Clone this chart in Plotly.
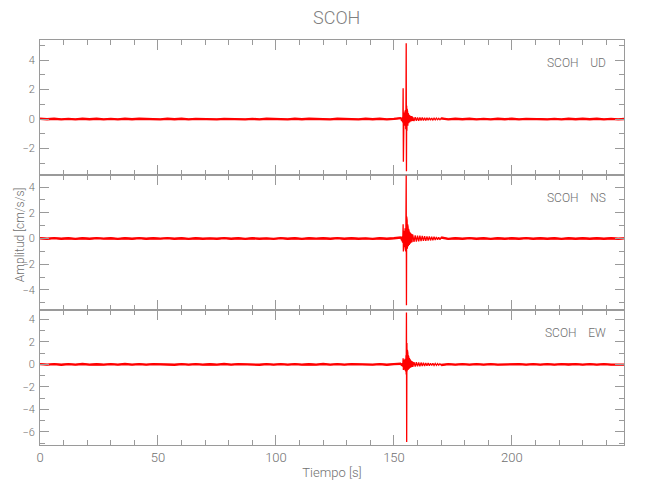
import plotly.graph_objects as go
from plotly.subplots import make_subplots

# ---------------- data ----------------
t_pre = [0, 3, 6, 9, 12, 15, 18, 21, 24, 27, 30, 33, 36, 39, 42, 45, 48, 51, 54, 57,
         60, 63, 66, 69, 72, 75, 78, 81, 84, 87, 90, 93, 96, 99, 102, 105, 108, 111,
         114, 117, 120, 123, 126, 129, 132, 135, 138, 141, 144, 147, 150]
t_event = [153.0, 153.1, 153.2, 153.3, 153.4, 153.5, 153.6, 153.7, 153.8, 153.9,
           154.0, 154.1, 154.2, 154.3, 154.4, 154.5, 154.6, 154.7, 154.8, 154.9,
           155.0, 155.1, 155.2, 155.3, 155.4, 155.5, 155.6, 155.7, 155.8, 155.9,
           156.0, 156.1, 156.2, 156.3, 156.4, 156.5, 156.6, 156.7, 156.8, 156.9,
           157.0, 157.1, 157.2, 157.3, 157.4, 157.5, 157.6, 157.7, 157.8, 157.9, 158.0]
t_coda = [158.5, 159.0, 159.5, 160.0, 160.5, 161.0, 161.5, 162.0, 162.5, 163.0,
          163.5, 164.0, 164.5, 165.0, 165.5, 166.0, 166.5, 167.0, 167.5, 168.0,
          168.5, 169.0, 169.5, 170.0]
t_post = [173, 176, 179, 182, 185, 188, 191, 194, 197, 200, 203, 206, 209, 212, 215,
          218, 221, 224, 227, 230, 233, 236, 239, 242, 245, 248]

ud_pre = [0.02, -0.01, 0.02, -0.02, 0.01, -0.02, 0.02, -0.01, 0.02, -0.02, 0.01, -0.02,
          0.02, -0.01, 0.02, -0.01, 0.01, -0.02, 0.02, -0.01, 0.02, -0.02, 0.01, -0.01,
          0.02, -0.02, 0.01, -0.01, 0.02, -0.02, 0.01, -0.02, 0.02, -0.01, 0.01, -0.02,
          0.02, -0.01, 0.02, -0.01, 0.01, -0.02, 0.02, -0.01, 0.01, -0.02, 0.02, -0.01,
          0.02, -0.02, 0.01]
ud_event = [0.06, -0.08, 0.1, -0.1, 0.12, -0.12, 0.18, -0.22, 0.28, 2.1,
            -2.9, 0.4, -0.4, 0.45, -0.4, 0.45, -0.45, 0.5, -0.55, 0.6,
            -0.7, 0.8, 5.15, -3.55, 0.9, -0.8, 0.7, -0.6, 0.5, -0.45,
            0.4, -0.35, 0.3, -0.28, 0.26, -0.24, 0.22, -0.21, 0.2, -0.19,
            0.18, -0.17, 0.17, -0.16, 0.16, -0.15, 0.15, -0.14, 0.14, -0.13, 0.13]
ud_coda = [-0.13, 0.12, -0.12, 0.11, -0.11, 0.1, -0.1, 0.1, -0.09, 0.09, -0.09, 0.08,
           -0.08, 0.08, -0.07, 0.07, -0.07, 0.06, -0.06, 0.06, -0.05, 0.05, -0.05, 0.05]
ud_post = [-0.02, 0.02, -0.01, 0.02, -0.02, 0.01, -0.02, 0.02, -0.01, 0.02, -0.02, 0.01,
           -0.01, 0.02, -0.02, 0.01, -0.02, 0.02, -0.01, 0.02, -0.01, 0.02, -0.02, 0.01,
           -0.02, 0.01]

ns_pre = [0.02, -0.02, 0.03, -0.02, 0.02, -0.03, 0.02, -0.02, 0.03, -0.01, 0.02, -0.03,
          0.02, -0.02, 0.03, -0.02, 0.02, -0.01, 0.03, -0.02, 0.02, -0.03, 0.02, -0.02,
          0.01, -0.02, 0.03, -0.02, 0.02, -0.03, 0.02, -0.02, 0.01, -0.03, 0.03, -0.02,
          0.02, -0.03, 0.02, -0.01, 0.02, -0.02, 0.03, -0.02, 0.02, -0.02, 0.01, -0.03,
          0.02, -0.02, 0.02]
ns_event = [0.08, -0.1, 0.12, -0.14, 0.18, -0.2, 0.28, -0.32, 0.4, 1.1,
            -1.0, 0.6, -0.55, 0.6, -0.6, 0.7, -0.65, 0.8, -0.8, 0.9,
            -1.0, 1.2, 4.9, -5.2, 1.7, -0.9, 1.4, -0.8, 1.1, -0.7,
            0.9, -0.6, 0.75, -0.55, 0.6, -0.5, 0.5, -0.45, 0.45, -0.4,
            0.4, -0.37, 0.35, -0.33, 0.32, -0.3, 0.3, -0.28, 0.28, -0.27, 0.27]
ns_coda = [-0.26, 0.25, -0.24, 0.23, -0.22, 0.22, -0.21, 0.2, -0.19, 0.19, -0.18, 0.17,
           -0.16, 0.16, -0.15, 0.14, -0.13, 0.13, -0.12, 0.11, -0.1, 0.1, -0.09, 0.08]
ns_post = [-0.03, 0.02, -0.02, 0.03, -0.02, 0.02, -0.03, 0.02, -0.02, 0.02, -0.02, 0.03,
           -0.02, 0.02, -0.02, 0.02, -0.03, 0.02, -0.02, 0.02, -0.02, 0.02, -0.02, 0.02,
           -0.02, 0.02]

ew_pre = [0.02, -0.02, 0.02, -0.03, 0.02, -0.02, 0.03, -0.02, 0.01, -0.02, 0.02, -0.02,
          0.03, -0.02, 0.02, -0.02, 0.02, -0.01, 0.02, -0.03, 0.02, -0.02, 0.02, -0.02,
          0.01, -0.02, 0.03, -0.02, 0.02, -0.01, 0.02, -0.03, 0.02, -0.02, 0.02, -0.02,
          0.02, -0.02, 0.01, -0.02, 0.03, -0.02, 0.02, -0.02, 0.02, -0.01, 0.02, -0.02,
          0.02, -0.03, 0.02]
ew_event = [0.06, -0.08, 0.08, -0.1, 0.12, -0.13, 0.17, -0.18, 0.22, 0.55,
            -0.5, 0.35, -0.35, 0.4, -0.4, 0.45, -0.45, 0.5, -0.5, 0.6,
            -0.6, 0.8, -0.9, 4.6, -6.9, 1.9, -0.6, 1.3, -0.55, 1.0,
            -0.5, 0.8, -0.45, 0.65, -0.4, 0.55, -0.36, 0.45, -0.33, 0.4,
            -0.3, 0.33, -0.27, 0.28, -0.25, 0.25, -0.23, 0.23, -0.22, 0.22, -0.21]
ew_coda = [0.2, -0.2, 0.19, -0.18, 0.17, -0.17, 0.16, -0.15, 0.14, -0.14, 0.13, -0.12,
           0.12, -0.11, 0.1, -0.1, 0.09, -0.09, 0.08, -0.08, 0.07, -0.07, 0.06, -0.06]
ew_post = [0.02, -0.02, 0.02, -0.02, 0.02, -0.02, 0.02, -0.02, 0.01, -0.02, 0.02, -0.02,
           0.02, -0.02, 0.02, -0.02, 0.02, -0.01, 0.02, -0.02, 0.02, -0.02, 0.02, -0.02,
           0.01, -0.02]

station = "SCOH"
components = ["UD", "NS", "EW"]
y_ranges = [[-3.8, 5.37], [-5.56, 4.94], [-7.16, 4.83]]
x_ticks = [0, 50, 100, 150, 200]

pre = [ud_pre, ns_pre, ew_pre]
event = [ud_event + ud_coda, ns_event + ns_coda, ew_event + ew_coda]
post = [ud_post, ns_post, ew_post]

# ---------------- figure ----------------
FONT = "Roboto, Liberation Sans Narrow, DejaVu Sans Condensed, sans-serif"
TXT = "#707070"
AX = "#9a9a9a"
RED = "#ff0000"

fig = make_subplots(rows=3, cols=1, shared_xaxes=True, vertical_spacing=0)

for i in range(3):
    full_t = t_pre + t_event + t_coda + t_post
    full_v = pre[i] + event[i] + post[i]
    # whole trace (thin, for the burst)
    fig.add_trace(go.Scatter(x=full_t, y=full_v, mode="lines",
                             line=dict(color=RED, width=1.3),
                             showlegend=False, hoverinfo="skip"),
                  row=i + 1, col=1)
    # quiet background noise band (drawn a bit heavier)
    fig.add_trace(go.Scatter(x=t_pre + [t_event[0]], y=pre[i] + [event[i][0]], mode="lines",
                             line=dict(color=RED, width=2.4),
                             showlegend=False, hoverinfo="skip"),
                  row=i + 1, col=1)
    fig.add_trace(go.Scatter(x=[t_coda[-1]] + t_post, y=[event[i][-1]] + post[i], mode="lines",
                             line=dict(color=RED, width=2.4),
                             showlegend=False, hoverinfo="skip"),
                  row=i + 1, col=1)
    fig.update_yaxes(range=y_ranges[i], dtick=2, tick0=0, ticks="inside", ticklen=9,
                     tickcolor=AX, showline=True, linecolor=AX, linewidth=1,
                     mirror="allticks", showgrid=False, zeroline=False,
                     tickfont=dict(family=FONT, size=11, color=TXT, weight=300),
                     ticklabelstandoff=2,
                     minor=dict(dtick=1, tick0=0, ticks="inside", ticklen=5, tickcolor=AX),
                     row=i + 1, col=1)
    fig.update_xaxes(range=[0, 247.5], tickvals=x_ticks, ticks="inside", ticklen=10,
                     tickcolor=AX, showline=True, linecolor=AX, linewidth=1,
                     mirror="allticks", showgrid=False, zeroline=False,
                     tickfont=dict(family=FONT, size=13, color=TXT, weight=300),
                     minor=dict(dtick=10, tick0=0, ticks="inside", ticklen=5, tickcolor=AX),
                     row=i + 1, col=1)
    yref = "y domain" if i == 0 else f"y{i + 1} domain"
    fig.add_annotation(text=station + "\u00a0\u00a0\u00a0\u00a0" + components[i],
                       xref="paper", yref=yref, x=0.9726, y=1, yshift=-23,
                       xanchor="right", yanchor="middle", showarrow=False,
                       font=dict(family=FONT, size=12, color=TXT, weight=300))

fig.update_xaxes(title=dict(text="Tiempo [s]",
                            font=dict(family=FONT, size=13, color=TXT, weight=300),
                            standoff=4), row=3, col=1)

fig.add_annotation(text="Amplitud [cm/s/s]", xref="paper", yref="paper",
                   x=-0.033, y=0.52, xanchor="center", yanchor="middle",
                   textangle=-90, showarrow=False,
                   font=dict(family=FONT, size=12, color=TXT, weight=300))

# The page body adds an 8 px offset; size and margins compensate for it.
fig.update_layout(
    width=642, height=492,
    margin=dict(l=32, r=26, t=32, b=55, autoexpand=False),
    paper_bgcolor="white", plot_bgcolor="white",
    title=dict(text=station, x=0.512, xanchor="center", y=1 - 10 / 492, yanchor="middle",
               font=dict(family=FONT, size=18, color="#808080", weight=300)),
)

fig.write_html("out.html")
